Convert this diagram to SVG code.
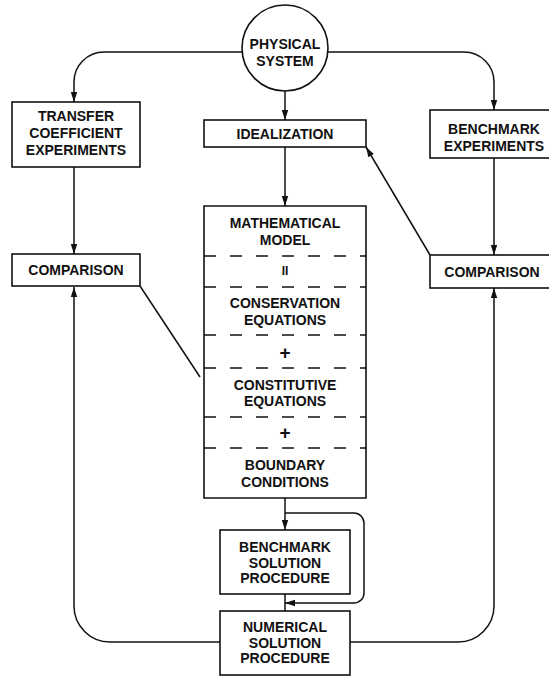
<svg xmlns="http://www.w3.org/2000/svg" width="549" height="676" viewBox="0 0 549 676">
<defs>
<style>
.box{fill:#fff;stroke:#111;stroke-width:1.6}
.ln{fill:none;stroke:#111;stroke-width:1.5}
.dash{fill:none;stroke:#111;stroke-width:1.5;stroke-dasharray:12 14}
text{font-family:"Liberation Sans",Arial,sans-serif;font-weight:bold;font-size:14px;fill:#111;text-anchor:middle;dominant-baseline:central}
.plus{font-size:19px}
</style>
<marker id="ah" markerUnits="userSpaceOnUse" markerWidth="10" markerHeight="10" viewBox="0 0 10 10" refX="10" refY="5" orient="auto">
<path d="M0,1.8 L10,5 L0,8.2 Z" fill="#111"/>
</marker>
</defs>
<rect width="549" height="676" fill="#fff"/>
<g id="connectors">
<path class="ln" d="M242 52 H104 A30 30 0 0 0 74 82 V102" marker-end="url(#ah)"/>
<path class="ln" d="M328 52 H464 A30 30 0 0 1 494 82 V110" marker-end="url(#ah)"/>
<path class="ln" d="M285 91 V120" marker-end="url(#ah)"/>
<path class="ln" d="M285 147 V206" marker-end="url(#ah)"/>
<path class="ln" d="M74 167 V254" marker-end="url(#ah)"/>
<path class="ln" d="M494 158 V255" marker-end="url(#ah)"/>
<path class="ln" d="M140 286 L200 377"/>
<path class="ln" d="M430 255 L366 147" marker-end="url(#ah)"/>
<path class="ln" d="M285 498 V530" marker-end="url(#ah)"/>
<path class="ln" d="M285 513 H354 A10 10 0 0 1 364 523 V593 A10 10 0 0 1 354 603 H285" marker-end="url(#ah)"/>
<path class="ln" d="M285 594 V611"/>
<path class="ln" d="M220 642 H110 A36 36 0 0 1 74 606 V287" marker-end="url(#ah)"/>
<path class="ln" d="M350 642 H458 A36 36 0 0 0 494 606 V288" marker-end="url(#ah)"/>
</g>
<g id="physical-system">
<circle class="box" cx="285" cy="48" r="43"/>
<text x="285" y="44">PHYSICAL</text>
<text x="285" y="61">SYSTEM</text>
</g>
<g id="transfer-coefficient-experiments">
<rect class="box" x="12" y="102" width="128" height="65"/>
<text x="76" y="116">TRANSFER</text>
<text x="76" y="133">COEFFICIENT</text>
<text x="76" y="150">EXPERIMENTS</text>
</g>
<g id="idealization">
<rect class="box" x="204" y="120" width="162" height="27"/>
<text x="285" y="133.5">IDEALIZATION</text>
</g>
<g id="benchmark-experiments">
<rect class="box" x="430" y="110" width="128" height="48"/>
<text x="494" y="129">BENCHMARK</text>
<text x="494" y="146">EXPERIMENTS</text>
</g>
<g id="comparison-left">
<rect class="box" x="12" y="254" width="128" height="32"/>
<text x="76" y="270">COMPARISON</text>
</g>
<g id="comparison-right">
<rect class="box" x="430" y="255" width="128" height="33"/>
<text x="492" y="271.5">COMPARISON</text>
</g>
<g id="mathematical-model">
<path class="box" d="M204 206 H366 V498 H204 Z"/>
<path class="dash" d="M204 256 H366 M204 287 H366 M204 335 H366 M204 368 H366 M204 417 H366 M204 448 H366"/>
<text x="285" y="223">MATHEMATICAL</text>
<text x="285" y="240">MODEL</text>
<text x="285" y="271" style="font-size:12px">II</text>
<text x="285" y="303">CONSERVATION</text>
<text x="285" y="320">EQUATIONS</text>
<text class="plus" x="285" y="352">+</text>
<text x="285" y="385">CONSTITUTIVE</text>
<text x="285" y="401">EQUATIONS</text>
<text class="plus" x="285" y="432">+</text>
<text x="285" y="465">BOUNDARY</text>
<text x="285" y="482">CONDITIONS</text>
</g>
<g id="benchmark-solution-procedure">
<rect class="box" x="220" y="530" width="130" height="64"/>
<text x="285" y="547">BENCHMARK</text>
<text x="285" y="563">SOLUTION</text>
<text x="285" y="578">PROCEDURE</text>
</g>
<g id="numerical-solution-procedure">
<rect class="box" x="220" y="611" width="130" height="64"/>
<text x="285" y="627">NUMERICAL</text>
<text x="285" y="643">SOLUTION</text>
<text x="285" y="658">PROCEDURE</text>
</g>
</svg>
